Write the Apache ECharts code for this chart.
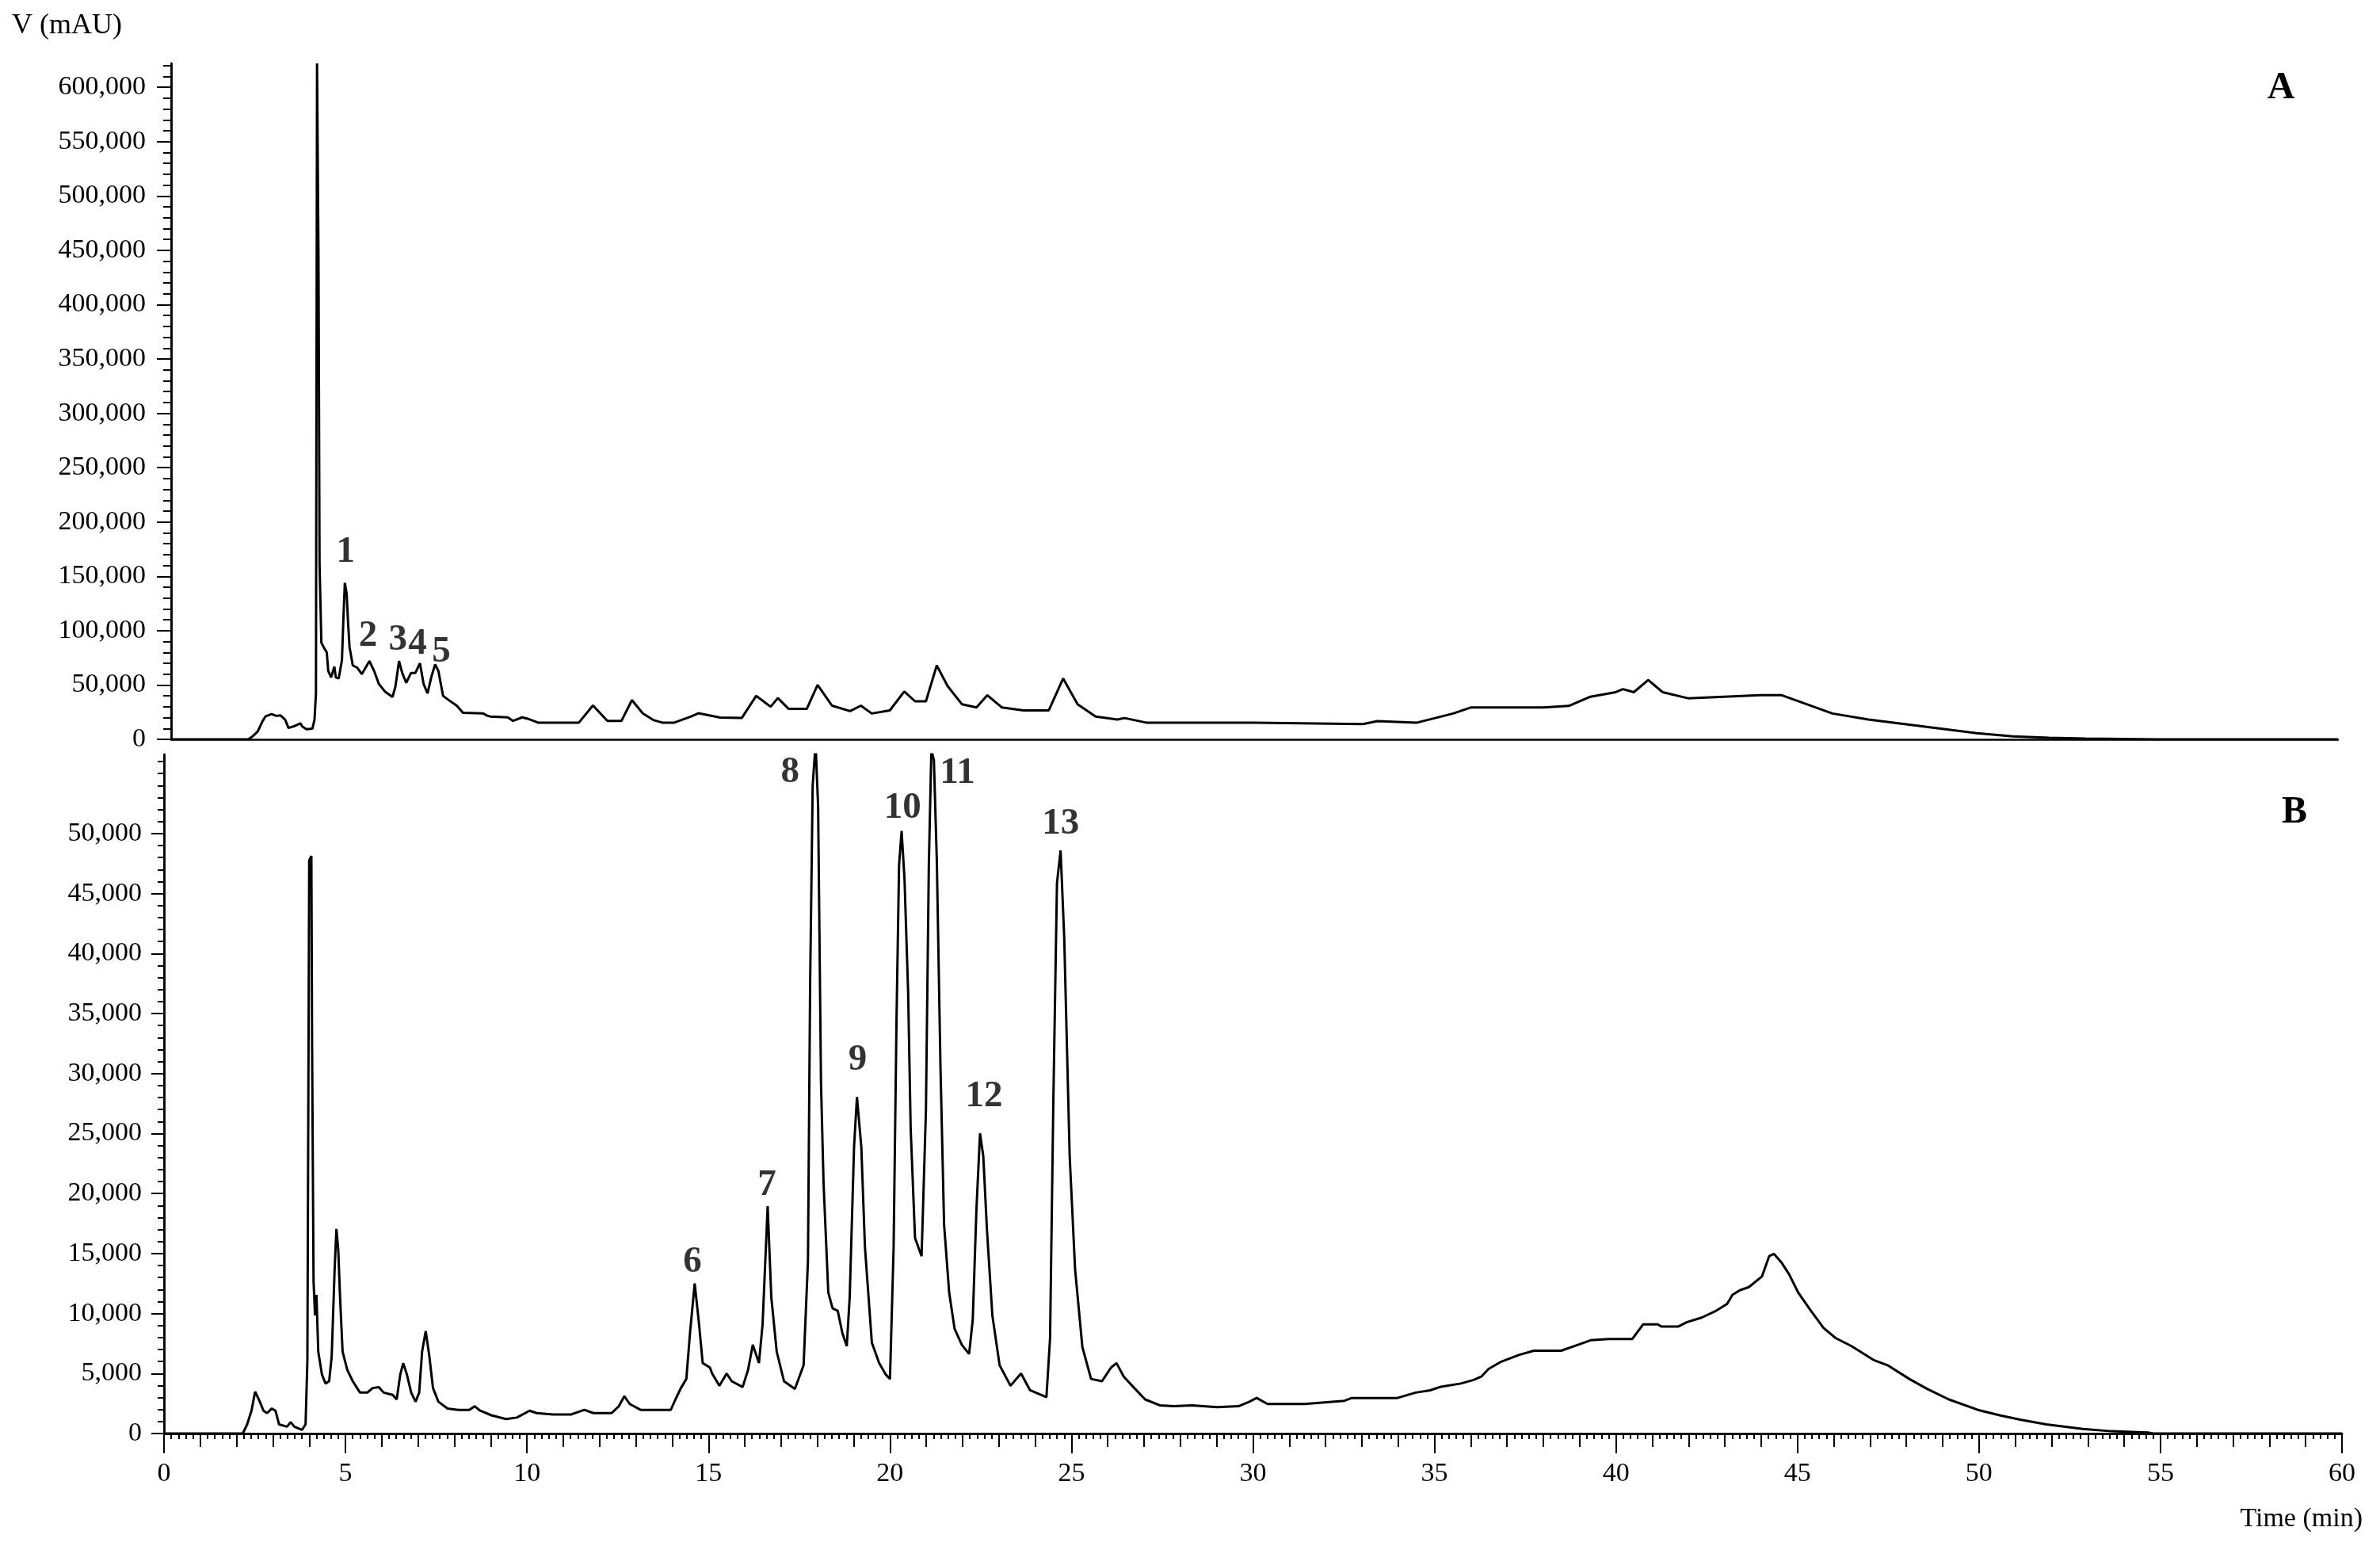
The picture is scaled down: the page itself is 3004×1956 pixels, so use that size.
<!DOCTYPE html>
<html>
<head>
<meta charset="utf-8">
<title>Chromatograms A / B</title>
<script src="https://cdn.jsdelivr.net/npm/echarts/dist/echarts.min.js"></script>
<style>
  html, body { margin: 0; padding: 0; background: #fff; }
  #container { width: 3004px; height: 1956px; }
</style>
</head>
<body>
<div id="container"></div>
<script>
  // chromatogram A (upper panel), time in min, signal in mAU
  var timeA = [0, 2.14, 2.27, 2.40, 2.53, 2.61, 2.78, 2.91, 3.03, 3.16, 3.25, 3.42, 3.58, 3.63, 3.75, 3.91, 3.97,
    4.01, 4.04, 4.08, 4.10, 4.11, 4.13, 4.16, 4.22, 4.31, 4.35, 4.43, 4.52, 4.56, 4.64, 4.73, 4.77, 4.81, 4.86,
    4.90, 4.94, 5.03, 5.15, 5.28, 5.49, 5.62, 5.75, 5.92, 6.13, 6.21, 6.31, 6.40, 6.51, 6.64, 6.76, 6.89, 6.99,
    7.10, 7.21, 7.31, 7.40, 7.53, 7.69, 7.91, 8.08, 8.64, 8.74, 8.83, 9.32, 9.47, 9.72, 9.87, 10.16, 11.29, 11.68,
    12.08, 12.47, 12.76, 13.06, 13.35, 13.60, 13.93, 14.40, 14.60, 15.20, 15.80, 16.20, 16.40, 16.60, 16.80,
    17.10, 17.60, 17.90, 18.30, 18.80, 19.10, 19.40, 19.90, 20.30, 20.60, 20.90, 21.20, 21.50, 21.90, 22.30,
    22.60, 23.00, 23.60, 24.30, 24.70, 25.10, 25.60, 26.20, 26.40, 27.00, 30.00, 33.00, 33.40, 34.50, 35.50,
    36.00, 38.00, 38.70, 39.30, 40.00, 40.20, 40.50, 40.90, 41.30, 42.00, 43.00, 44.00, 44.60, 45.30, 46.00,
    47.00, 48.00, 49.00, 50.00, 51.00, 52.00, 53.00, 55.00, 60.00]
  var signalA = [0, 0, 3200, 7350, 16700, 21000, 23300, 21600, 22000, 17900, 10500, 12250, 14700, 11800, 9300, 9800, 17900,
    42400, 622000, 446000, 446000, 161000, 161000, 89000, 85000, 80000, 63000, 57000, 67000, 57000, 56000, 73000, 111000, 144000, 134000,
    107000, 85000, 68000, 66000, 60000, 72000, 63000, 51000, 44000, 39000, 48500, 72000, 61000, 52000, 61000, 61000, 70000, 51000,
    42400, 58000, 69000, 63000, 40000, 36000, 31000, 24500, 23900, 22000, 21000, 20250, 17000, 20250, 19000, 15400, 15400, 31200,
    17000, 17000, 36100, 23900, 17800, 15400, 15400, 21000, 24000, 20000, 19600, 40000, 35000, 30000, 38000,
    28000, 28000, 50000, 31000, 26000, 31000, 23800, 26600, 44000, 35000, 35000, 68000, 49000, 32200, 29400,
    40600, 29400, 26600, 26600, 56000, 32200, 21000, 18200, 19600, 15400, 15400, 14000, 16800, 15400, 23800,
    29400, 29400, 30800, 39200, 43400, 46200, 43400, 54600, 43400, 37800, 39200, 40600, 40600, 32200, 23800,
    18200, 14000, 9800, 5600, 2800, 1400, 700, 0, 0]

  // chromatogram B (lower panel)
  var timeB = [0, 2.17, 2.29, 2.41, 2.51, 2.55, 2.64, 2.74, 2.84, 2.97, 3.07, 3.17, 3.39, 3.49, 3.59, 3.80, 3.90, 3.95,
    4.00, 4.06, 4.08, 4.12, 4.16, 4.20, 4.25, 4.35, 4.45, 4.55, 4.62, 4.70, 4.75, 4.80, 4.85, 4.92, 5.05, 5.20,
    5.40, 5.60, 5.75, 5.92, 6.05, 6.30, 6.41, 6.51, 6.59, 6.69, 6.81, 6.93, 7.03, 7.11, 7.21, 7.31, 7.41, 7.56,
    7.81, 8.11, 8.41, 8.56, 8.71, 9.02, 9.42, 9.72, 10.07, 10.27, 10.72, 11.22, 11.58, 11.83, 12.33, 12.53, 12.68,
    12.83, 13.13, 13.96, 14.09, 14.24, 14.39, 14.49, 14.62, 14.74, 14.84, 15.04, 15.10, 15.30, 15.50, 15.64,
    15.94, 16.09, 16.22, 16.39, 16.49, 16.63, 16.73, 16.88, 17.08, 17.38, 17.62, 17.74, 17.80, 17.87, 17.95,
    18.02, 18.10, 18.17, 18.30, 18.42, 18.56, 18.69, 18.81, 18.89, 19.01, 19.09, 19.21, 19.31, 19.50, 19.70,
    19.88, 20.00, 20.10, 20.18, 20.25, 20.32, 20.40, 20.50, 20.57, 20.69, 20.87, 20.99, 21.07, 21.14, 21.21,
    21.29, 21.39, 21.49, 21.63, 21.78, 21.98, 22.18, 22.28, 22.38, 22.48, 22.57, 22.67, 22.82, 23.02, 23.32,
    23.61, 23.86, 24.31, 24.41, 24.50, 24.60, 24.70, 24.80, 24.95, 25.10, 25.30, 25.54, 25.84, 26.09, 26.24,
    26.44, 26.73, 27.03, 27.43, 27.82, 28.32, 29.01, 29.60, 29.90, 30.10, 30.40, 31.42, 32.52, 32.72, 33.98,
    34.48, 34.88, 35.18, 35.73, 36.08, 36.29, 36.49, 36.84, 37.34, 37.74, 38.49, 38.95, 39.30, 39.80, 40.45,
    40.75, 41.15, 41.25, 41.71, 41.96, 42.36, 42.76, 43.06, 43.21, 43.41, 43.66, 44.02, 44.22, 44.35, 44.57,
    44.77, 45.02, 45.37, 45.72, 46.05, 46.49, 47.09, 47.48, 48.08, 48.58, 49.17, 49.97, 50.57, 51.16, 51.86,
    52.86, 53.65, 54.65, 54.80, 60]
  var signalB = [0, 0, 760, 1900, 3490, 3600, 2650, 1900, 1700, 2085, 1900, 760, 570, 950, 570, 300, 760, 6060,
    47750, 48130, 32200, 12700, 9850, 11560, 6820, 4930, 4170, 4360, 6440, 13640, 17050, 15350, 11370, 6820, 5300, 4360,
    3410, 3410, 3790, 3870, 3410, 3220, 2840, 4930, 5870, 4930, 3410, 2650, 3410, 6820, 8530, 6440, 3790, 2650,
    2085, 1970, 1970, 2275, 1900, 1520, 1210, 1330, 1900, 1700, 1590, 1590, 1970, 1700, 1700, 2275, 3110,
    2460, 1970, 1970, 2840, 3790, 4550, 8340, 12500, 9100, 5870, 5500, 5000, 3980, 5000, 4360,
    3870, 5300, 7390, 5870, 9100, 18950, 11370, 6820, 4360, 3710, 5690, 14400, 37500, 54000, 57500,
    52300, 29180, 20850, 11750, 10420, 10230, 8340, 7280, 11370, 23880, 28050, 23880, 15540, 7580, 5870,
    4930, 4550, 15540, 34490, 47380, 50220, 46240, 36760, 25390, 16300, 14780, 26900, 47380, 57000, 56100,
    47750, 30700, 17430, 11750, 8720, 7390, 6630, 9480, 18570, 25010, 23120, 17050, 9850, 5690, 3980,
    5000, 3600, 3030, 7960, 27670, 45860, 48590, 41310, 23120, 13640, 7200, 4550, 4360, 5500, 5870,
    4740, 3790, 2840, 2350, 2275, 2350, 2200, 2275, 2650, 2960, 2460, 2460, 2730, 2960, 2960,
    3410, 3600, 3900, 4170, 4470, 4740, 5380, 5990, 6560, 6900, 6900, 7390, 7770, 7880, 7880,
    9100, 9100, 8910, 8910, 9290, 9660, 10230, 10800, 11560, 11940, 12200, 13080, 14780, 14970, 14210,
    13270, 11750, 10230, 8790, 7960, 7280, 6140, 5690, 4550, 3710, 2840, 1970, 1520, 1140, 760,
    380, 190, 80, 0, 0]

  // peak numbers, placed above the peaks (time, signal)
  var peakNameA = ['1', '2', '3', '4', '5']
  var peakTimeA = [4.83, 5.45, 6.28, 6.82, 7.48]
  var peakLevelA = [172000, 95000, 91400, 87700, 80400]
  var peakNameB = ['6', '7', '8', '9', '10', '11', '12', '13']
  var peakTimeB = [14.56, 16.61, 17.25, 19.11, 20.35, 21.86, 22.59, 24.70]
  var peakLevelB = [14300, 20650, 55100, 31100, 52100, 55000, 28100, 50800]

  // tick labels
  var yTicksA = [0, 50000, 100000, 150000, 200000, 250000, 300000, 350000, 400000, 450000, 500000, 550000, 600000]
  var yTicksB = [0, 5000, 10000, 15000, 20000, 25000, 30000, 35000, 40000, 45000, 50000]
  var xTicks = [0, 5, 10, 15, 20, 25, 30, 35, 40, 45, 50, 55, 60]

  var font = 'Liberation Serif'
  var black = '#000'

  function pairs(xs, ys) {
    return xs.map(function (x, i) { return [x, ys[i]] })
  }
  function labels(names, xs, ys) {
    return names.map(function (n, i) { return { name: n, value: [xs[i], ys[i]] } })
  }
  // minor tick positions
  function steps(to, step) {
    let out = []
    for (let i = 0; i * step <= to + 1e-9; i++) out.push(i * step)
    return out
  }

  var line = { color: black, width: 2.5 }
  var trace = { color: black, width: 3 }
  var labelText = { color: black, fontFamily: font, fontSize: 34 }
  var peakText = {
    show: true, position: 'inside', formatter: '{b}', color: black,
    fontFamily: font, fontSize: 47, fontWeight: 'bold', textBorderWidth: 0
  }
  var fmt = function (v) { return v.toLocaleString('en-US') }

  // one y axis per tick level, stacked on the same line
  function yAxis(grid, max, ticks, len, withLabel, margin) {
    return {
      type: 'value', gridIndex: grid, position: 'left', min: 0, max: max,
      axisLine: { show: true, lineStyle: line },
      axisTick: { show: true, length: len, lineStyle: { color: black, width: 2 }, customValues: ticks },
      axisLabel: withLabel
        ? Object.assign({ show: true, margin: margin, formatter: fmt, customValues: ticks }, labelText)
        : { show: false },
      splitLine: { show: false }
    }
  }
  function xAxis(grid, interval, len, withLabel, tickShow) {
    return {
      type: 'value', gridIndex: grid, position: 'bottom', min: 0, max: 60, interval: interval,
      axisLine: { show: true, lineStyle: line },
      axisTick: { show: tickShow, length: len, lineStyle: { color: black, width: 2 } },
      axisLabel: withLabel ? Object.assign({ show: true, margin: 34 }, labelText) : { show: false },
      splitLine: { show: false }
    }
  }

  var dom = document.getElementById('container')
  var myChart = echarts.init(dom, null, { renderer: 'canvas' })
  myChart.setOption({
    animation: false,
    backgroundColor: '#fff',
    grid: [
      { left: 216, top: 80, width: 2735, height: 853 },
      { left: 207, top: 952, width: 2749, height: 857 }
    ],
    xAxis: [
      xAxis(0, 5, 0, false, false),
      xAxis(1, 0.2, 7, false, true),
      xAxis(1, 1, 17, false, true),
      xAxis(1, 5, 25, true, true)
    ],
    yAxis: [
      yAxis(0, 622000, steps(620000, 10000), 10, false),
      yAxis(0, 622000, yTicksA, 18, true, 32),
      yAxis(1, 56600, steps(56000, 1000), 8, false),
      yAxis(1, 56600, yTicksB, 16, true, 28)
    ],
    series: [
      {
        name: 'A', type: 'line', xAxisIndex: 0, yAxisIndex: 0,
        data: pairs(timeA, signalA), showSymbol: false, clip: true,
        lineStyle: trace, itemStyle: { color: black }
      },
      {
        name: 'B', type: 'line', xAxisIndex: 1, yAxisIndex: 2,
        data: pairs(timeB, signalB), showSymbol: false, clip: true,
        lineStyle: trace, itemStyle: { color: black }
      },
      {
        name: 'peaks A', type: 'scatter', xAxisIndex: 0, yAxisIndex: 0, symbolSize: 0,
        itemStyle: { color: 'rgba(0,0,0,0)' },
        data: labels(peakNameA, peakTimeA, peakLevelA), label: peakText
      },
      {
        name: 'peaks B', type: 'scatter', xAxisIndex: 1, yAxisIndex: 2, symbolSize: 0,
        itemStyle: { color: 'rgba(0,0,0,0)' },
        data: labels(peakNameB, peakTimeB, peakLevelB), label: peakText
      }
    ],
    graphic: [
      { type: 'text', x: 15, y: 33, style: { text: 'V (mAU)', fill: black, font: '36px "Liberation Serif"', textAlign: 'left', textVerticalAlign: 'middle' } },
      { type: 'text', x: 2982, y: 1917, style: { text: 'Time (min)', fill: black, font: '34px "Liberation Serif"', textAlign: 'right', textVerticalAlign: 'middle' } },
      { type: 'text', x: 2879, y: 112, style: { text: 'A', fill: black, font: 'bold 48px "Liberation Serif"', textAlign: 'center', textVerticalAlign: 'middle' } },
      { type: 'text', x: 2896, y: 1026, style: { text: 'B', fill: black, font: 'bold 48px "Liberation Serif"', textAlign: 'center', textVerticalAlign: 'middle' } }
    ]
  })
</script>
</body>
</html>
